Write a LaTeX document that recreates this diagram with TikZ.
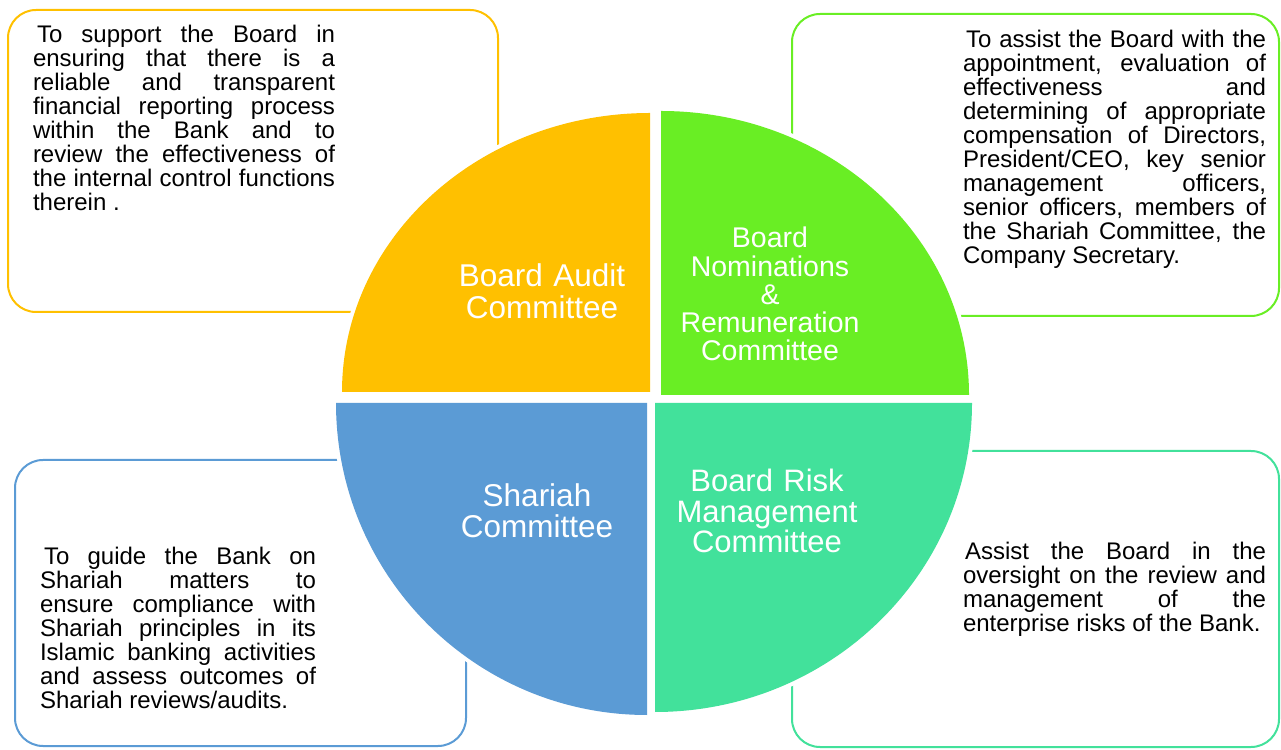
\documentclass[tikz,border=0pt]{standalone}
\usepackage{fontspec}
\setmainfont{Liberation Sans}
\definecolor{cyel}{HTML}{FFC000}
\definecolor{cgrn}{HTML}{69EE24}
\definecolor{cblu}{HTML}{5B9BD5}
\definecolor{ctea}{HTML}{42E19B}
\newlength\jw
\newcommand\jl[1]{\hbox to \jw{#1}}
\newcommand\jlast[1]{\hbox{#1}}
\newcommand\jset[1]{\spaceskip=0pt\xspaceskip=0pt\setlength\jw{#1}}
\tikzset{
  cbox/.style={rectangle, rounded corners=28pt, line width=2pt, inner sep=0pt, outer sep=0pt},
  desc/.style={anchor=base west, inner sep=0pt, outer sep=0pt, text width=#1,
               font=\fontsize{24}{23.9}\selectfont, text=black},
  qlab/.style={anchor=base, inner sep=0pt, outer sep=0pt, text width=260pt, align=center, text=white},
  halo/.style={draw=white, line width=8pt, line join=round}
}
\begin{document}
\begin{tikzpicture}[x=1pt,y=1pt]
\useasboundingbox (0,0) rectangle (1281,749);
% description boxes
\node[cbox, draw=cyel, minimum width=490pt, minimum height=302pt] (boxA) at (253,588) {};
\node[cbox, draw=cgrn, minimum width=487pt, minimum height=302pt] (boxN) at (1035.5,584) {};
\node[cbox, draw=cblu, minimum width=451pt, minimum height=286pt] (boxS) at (240.5,146) {};
\node[cbox, draw=ctea, minimum width=487pt, minimum height=296pt] (boxR) at (1035.5,150) {};
% halos
\path[halo] (650,357) -- (342,357) arc[start angle=180,end angle=90,x radius=308pt,y radius=279pt] -- cycle;
\path[halo] (661,354) -- (969,354) arc[start angle=0,end angle=90,x radius=308pt,y radius=284pt] -- cycle;
\path[halo] (647,346) -- (336,346) arc[start angle=180,end angle=270,x radius=311pt,y radius=312pt] -- cycle;
\path[halo] (655,346) -- (972,346) arc[start angle=0,end angle=-90,x radius=317pt,y radius=309pt] -- cycle;
% quadrants
\fill[cyel] (650,357) -- (342,357) arc[start angle=180,end angle=90,x radius=308pt,y radius=279pt] -- cycle;
\fill[cgrn] (661,354) -- (969,354) arc[start angle=0,end angle=90,x radius=308pt,y radius=284pt] -- cycle;
\fill[cblu] (647,346) -- (336,346) arc[start angle=180,end angle=270,x radius=311pt,y radius=312pt] -- cycle;
\fill[ctea] (655,346) -- (972,346) arc[start angle=0,end angle=-90,x radius=317pt,y radius=309pt] -- cycle;
% quadrant labels
\node[qlab, font=\fontsize{31.5}{32}\selectfont] (labA) at (542,462) {Board Audit\\Committee};
\node[qlab, font=\fontsize{28.5}{28.2}\selectfont] (labN) at (770,501) {Board\\Nominations\\\&\\Remuneration\\Committee};
\node[qlab, font=\fontsize{31.5}{31}\selectfont] (labS) at (537,242) {Shariah\\Committee};
\node[qlab, font=\fontsize{31}{30.5}\selectfont] (labR) at (767,257) {Board Risk\\Management\\Committee};
% descriptions
\node[desc=302pt] (txtA) at (33,706) {\jset{302pt}%
\jl{\hspace{4pt}To support the Board in}
\jl{ensuring that there is a}
\jl{reliable and transparent}
\jl{financial reporting process}
\jl{within the Bank and to}
\jl{review the effectiveness of}
\jl{the internal control functions}
\jlast{therein .}};
\node[desc=303pt] (txtN) at (963,701) {\jset{303pt}%
\jl{\hspace{3pt}To assist the Board with the}
\jl{appointment, evaluation of}
\jl{effectiveness and}
\jl{determining of appropriate}
\jl{compensation of Directors,}
\jl{President/CEO, key senior}
\jl{management officers,}
\jl{senior officers, members of}
\jl{the Shariah Committee, the}
\jlast{Company Secretary.}};
\node[desc=276pt] (txtS) at (40,184) {\jset{276pt}%
\jl{\hspace{4pt}To guide the Bank on}
\jl{Shariah matters to}
\jl{ensure compliance with}
\jl{Shariah principles in its}
\jl{Islamic banking activities}
\jl{and assess outcomes of}
\jlast{Shariah reviews/audits.}};
\node[desc=303pt] (txtR) at (963,189) {\jset{303pt}%
\jl{\hspace{2pt}Assist the Board in the}
\jl{oversight on the review and}
\jl{management of the}
\jlast{enterprise risks of the Bank.}};
\end{tikzpicture}
\end{document}
